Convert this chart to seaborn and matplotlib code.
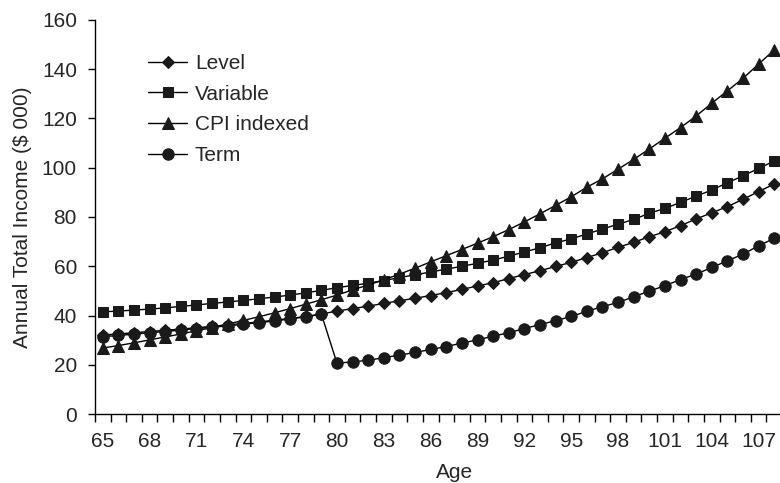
import numpy as np
import pandas as pd
import matplotlib
matplotlib.use("Agg")
import matplotlib.pyplot as plt
import seaborn as sns

ages = list(range(65, 109))

level = [32.1, 32.5, 33.0, 33.5, 34.0, 34.5, 35.0, 35.6, 36.2, 36.8, 37.4, 38.1, 38.8, 39.6, 40.6,
         41.8, 42.8, 43.8, 44.9, 46.0, 47.0, 48.1, 49.3, 50.6, 52.0, 53.3, 55.0, 56.6, 58.2, 59.9,
         61.6, 63.5, 65.5, 67.7, 69.7, 72.0, 74.0, 76.5, 79.2, 81.7, 84.2, 87.2, 90.3, 93.4]
variable = [41.5, 41.8, 42.2, 42.6, 43.1, 43.7, 44.3, 44.9, 45.5, 46.1, 46.8, 47.5, 48.3, 49.2, 50.2,
            51.3, 52.2, 53.1, 54.2, 55.4, 56.5, 57.7, 58.8, 60.0, 61.2, 62.5, 64.1, 65.8, 67.5, 69.5,
            71.1, 73.1, 75.1, 77.1, 79.0, 81.5, 83.5, 85.9, 88.5, 90.9, 93.9, 96.7, 99.7, 102.7]
cpi = [26.8, 27.8, 28.9, 30.1, 31.3, 32.5, 33.8, 35.1, 36.5, 38.0, 39.5, 41.1, 42.8, 44.6, 46.4,
       48.3, 50.4, 52.4, 54.5, 56.8, 59.2, 61.8, 64.3, 66.8, 69.4, 72.0, 74.9, 78.0, 81.3, 84.7,
       88.2, 92.1, 95.5, 99.4, 103.4, 107.6, 112.0, 116.3, 121.0, 126.2, 131.2, 136.3, 142.1, 147.8]
term = [31.4, 31.9, 32.4, 33.0, 33.5, 34.1, 34.7, 35.2, 35.8, 36.4, 37.1, 37.8, 38.6, 39.5, 40.5,
        20.6, 21.2, 21.8, 22.9, 23.9, 25.0, 26.2, 27.4, 28.8, 30.1, 31.6, 33.0, 34.7, 36.3, 37.9,
        39.6, 41.7, 43.6, 45.3, 47.6, 49.9, 52.1, 54.6, 56.8, 59.5, 62.2, 64.9, 68.3, 71.3]

names = ["Level", "Variable", "CPI indexed", "Term"]
markers = {"Level": "D", "Variable": "s", "CPI indexed": "^", "Term": "o"}
msizes = {"Level": 6.3, "Variable": 7.8, "CPI indexed": 8.2, "Term": 8.2}

df = pd.DataFrame({"Age": ages * 4,
                   "Income": level + variable + cpi + term,
                   "Series": np.repeat(names, len(ages))})

sns.set_style("ticks")
plt.rcParams["font.family"] = ["Liberation Sans", "DejaVu Sans"]
fs = 15

fig = plt.figure(figsize=(7.8, 4.83), dpi=100)
ax = fig.add_axes([95 / 780, 69 / 483, 687 / 780, 394 / 483])

for name in names:
    sub = df[df["Series"] == name]
    sns.lineplot(data=sub, x="Age", y="Income", ax=ax, color="black", linewidth=1,
                 marker=markers[name], markersize=msizes[name], markeredgecolor="#1a1a1a",
                 markerfacecolor="#1a1a1a", label=name)

ax.set_xlim(64.5, 108.5)
ax.set_ylim(0, 160)
ax.set_yticks(range(0, 161, 20))
ax.set_xticks(range(65, 108, 3))
ax.set_xticks(np.arange(64.5, 109, 1), minor=True)
ax.tick_params(axis="x", which="major", length=0, pad=13, labelsize=fs)
ax.tick_params(axis="x", which="minor", length=6, width=1, color="black")
ax.tick_params(axis="y", length=5, width=1, pad=8, color="black", labelsize=fs)
for s in ["top", "right"]:
    ax.spines[s].set_visible(False)
for s in ["left", "bottom"]:
    ax.spines[s].set_color("black")
    ax.spines[s].set_linewidth(1)

ax.set_xlabel("Age", fontsize=fs)
ax.xaxis.set_label_coords(0.5226, -0.124)
ax.set_ylabel("Annual Total Income ($ 000)", fontsize=fs, labelpad=7)

ax.legend(loc="upper left", bbox_to_anchor=(0.077, 0.914), frameon=False, fontsize=fs,
          handlelength=1.9, handletextpad=0.35, labelspacing=0.56,
          borderpad=0, borderaxespad=0)

fig.savefig("out.png", dpi=100)
